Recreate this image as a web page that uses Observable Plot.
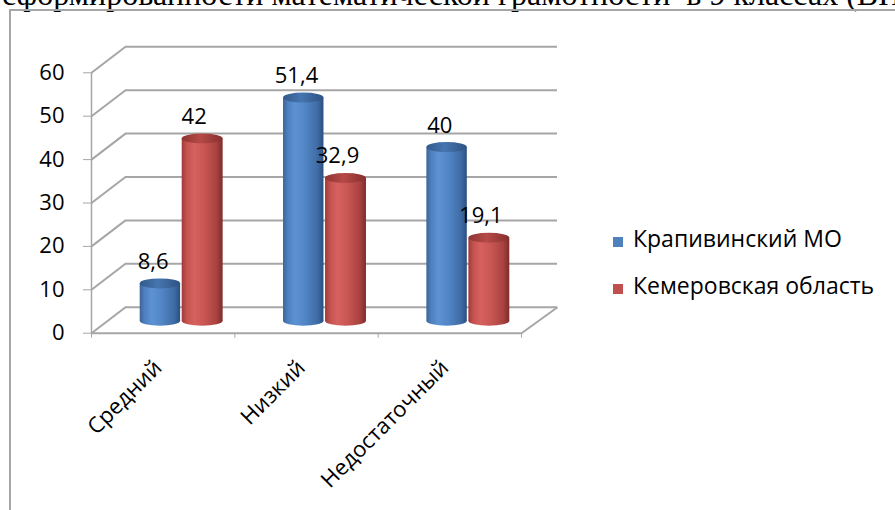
<!DOCTYPE html>
<html lang="ru">
<head>
<meta charset="utf-8">
<script src="https://cdn.jsdelivr.net/npm/d3@7"></script>
<script src="https://cdn.jsdelivr.net/npm/@observablehq/plot@0.6"></script>
<style>
  html, body { margin: 0; padding: 0; background: #fff; }
  #page { position: relative; width: 895px; height: 510px; overflow: hidden; font-family: "Open Sans", sans-serif; }
  #doc-line { position: absolute; left: 2px; top: -22px; font: 32px/32px "Liberation Serif", serif; white-space: pre; color: #000; }
  #chart { position: absolute; left: 0; top: 0; }
  #chart-frame { position: absolute; left: 9px; top: 9px; width: 1200px; height: 1200px; border: 2px solid #a6a6a6; box-sizing: border-box; pointer-events: none; }
  .legend-key { position: absolute; left: 613px; width: 10px; height: 10px; }
  .legend-label { position: absolute; left: 633px; font-size: 23px; line-height: 23px; white-space: nowrap; color: #000; }
</style>
</head>
<body>
<div id="page">
  <div id="doc-line">сформированности математической грамотности  в 9 классах (ВПР)</div>
  <div id="chart"></div>
  <div id="legend"></div>
  <div id="chart-frame"></div>
</div>
<script>
// Уровни сформированности и доли учащихся (%)
const categories = ["Средний", "Низкий", "Недостаточный"];
const seriesNames = ["Крапивинский МО", "Кемеровская область"];
const krapivinsky = [8.6, 51.4, 40];
const kemerovo = [42, 32.9, 19.1];
const yTicks = [0, 10, 20, 30, 40, 50, 60];

const seriesColors = ["#4f81bd", "#c0504d"];

// Layout of the front plane of the 3D box
const W = 895, H = 510;
const mLeft = 91, mRight = 374, mTop = 72.3, mBottom = 177.3;
const xPerPx = categories.length / (W - mLeft - mRight);
const yPerPx = (yTicks[yTicks.length - 1] - yTicks[0]) / (H - mTop - mBottom);
const depthLeft = 34, depthRight = 36, depthUp = 26; // back wall offset, px
const barLift = -12;                                   // bars stand mid-depth, px
const grid = "#a6a6a6";

const rows = categories.map((category, i) => ({i, category, a: krapivinsky[i], b: kemerovo[i]}));
const fmt = v => String(v).replace(".", ",");

// One cylinder series: rounded base, gradient body, darker elliptic cap
function cylinders(key, body, cap, insetLeft, insetRight) {
  const x1 = d => d.i, x2 = d => d.i + 1;
  return [
    Plot.rect(rows, {x1, x2, y1: 0, y2: 0, insetLeft, insetRight, insetTop: -5, insetBottom: -5,
      rx: 200, ry: 5, dy: barLift, fill: body}),
    Plot.rect(rows, {x1, x2, y1: 0, y2: key, insetLeft, insetRight, dy: barLift, fill: body}),
    Plot.rect(rows, {x1, x2, y1: key, y2: key, insetLeft, insetRight, insetTop: -5, insetBottom: -5,
      rx: 200, ry: 5, dy: barLift, fill: cap})
  ];
}

const chart = Plot.plot({
  width: W,
  height: H,
  marginLeft: mLeft,
  marginRight: mRight,
  marginTop: mTop,
  marginBottom: mBottom,
  style: {fontFamily: "'Open Sans', sans-serif", fontSize: "22px", color: "#000", background: "transparent"},
  x: {domain: [0, categories.length], axis: null},
  y: {domain: [yTicks[0], yTicks[yTicks.length - 1]], axis: null},
  marks: [
    // back wall gridlines
    Plot.ruleY(yTicks, {x1: depthLeft * xPerPx, x2: categories.length + depthRight * xPerPx,
      dy: -depthUp, stroke: grid, strokeWidth: 2}),
    // side wall lines
    Plot.link(yTicks, {x1: 0, y1: d => d, x2: depthLeft * xPerPx, y2: d => d + depthUp * yPerPx,
      stroke: grid, strokeWidth: 2}),
    // right edge of the floor
    Plot.link([yTicks[0]], {x1: categories.length, y1: d => d,
      x2: categories.length + depthRight * xPerPx, y2: d => d + depthUp * yPerPx, stroke: grid, strokeWidth: 2}),
    // front axis lines
    Plot.ruleX([0], {stroke: grid, strokeWidth: 1.5}),
    Plot.ruleY([yTicks[0]], {stroke: grid, strokeWidth: 2}),
    Plot.axisY({ticks: yTicks, tickSize: 8, tickPadding: 19, stroke: grid, fill: "#000", fontSize: 22, label: null}),
    Plot.axisX({ticks: d3.range(categories.length + 1), tickSize: 5, tickFormat: () => "", stroke: grid, label: null}),
    Plot.axisX({ticks: categories.map((c, i) => i + 0.5), tickFormat: d => categories[Math.floor(d)],
      tickSize: 0, tickPadding: 31, tickRotate: -45, textAnchor: "end", lineAnchor: "middle",
      dx: -5, fill: "#000", fontSize: 22, label: null}),
    // cylinders
    ...cylinders("a", "url(#cyl-blue)", "url(#cap-blue)", 48.7, 54.2),
    ...cylinders("b", "url(#cyl-red)", "url(#cap-red)", 90.7, 11.7),
    // value labels
    Plot.text(rows, {x: d => d.i + 0.5, y: "a", text: d => fmt(d.a), dx: -10, dy: -34, fontSize: 22, fill: "#000"}),
    Plot.text(rows, {x: d => d.i + 0.5, y: "b", text: d => fmt(d.b), dx: 31, dy: -34, fontSize: 22, fill: "#000"})
  ]
});

// cylinder shading gradients
const defs = d3.select(chart).insert("defs", ":first-child");
function gradient(id, stops) {
  const g = defs.append("linearGradient").attr("id", id).attr("x1", 0).attr("x2", 1).attr("y1", 0).attr("y2", 0);
  for (const [o, c] of stops) g.append("stop").attr("offset", o).attr("stop-color", c);
}
gradient("cyl-blue", [[0, "#3c6497"], [0.12, "#4f80bf"], [0.3, "#5c92d4"], [0.55, "#5285c5"], [0.85, "#3f6ca6"], [1, "#2c4f80"]]);
gradient("cyl-red", [[0, "#9e3b39"], [0.12, "#c4524f"], [0.3, "#d6625f"], [0.55, "#c95653"], [0.85, "#a84240"], [1, "#7f2c2a"]]);
gradient("cap-blue", [[0, "#34598a"], [0.45, "#4575b0"], [1, "#2f5282"]]);
gradient("cap-red", [[0, "#8f3432"], [0.45, "#b54a47"], [1, "#862f2d"]]);

document.getElementById("chart").append(chart);

// legend
const legend = document.getElementById("legend");
const keyTops = [237, 284];
seriesNames.forEach((name, i) => {
  const key = document.createElement("div");
  key.className = "legend-key";
  key.style.top = keyTops[i] + "px";
  key.style.background = seriesColors[i];
  const label = document.createElement("div");
  label.className = "legend-label";
  label.style.top = (keyTops[i] - 10.5) + "px";
  label.textContent = name;
  legend.append(key, label);
});
</script>
</body>
</html>
